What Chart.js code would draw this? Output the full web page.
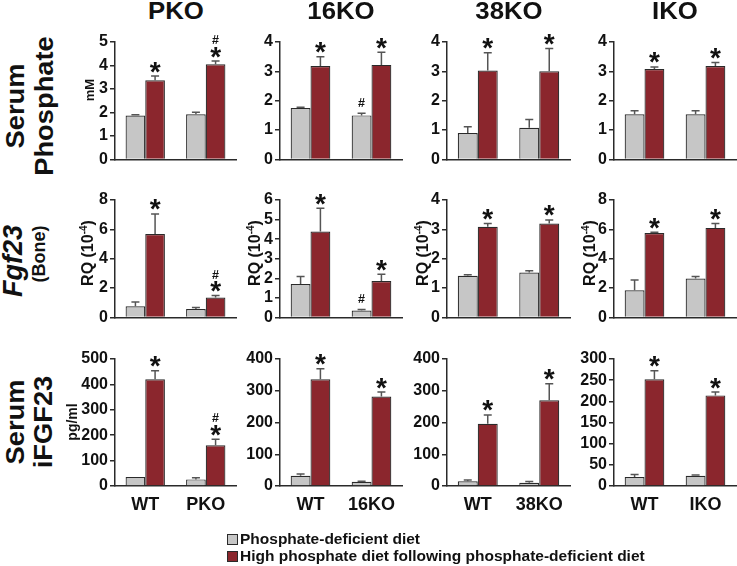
<!DOCTYPE html>
<html>
<head>
<meta charset="utf-8">
<script src="https://cdn.jsdelivr.net/npm/chart.js@4"></script>
<style>
  body { margin: 0; background: #fff; }
  #fig { position: relative; width: 737px; height: 566px; overflow: hidden;
         font-family: "Liberation Sans", Arial, sans-serif; font-weight: bold; color: #111; }
  .lbl { position: absolute; white-space: nowrap; text-align: center; line-height: 1.1; }
  .legend-row { position: absolute; left: 227px; font-size: 15.5px; display: flex; align-items: center; }
  .legend-row span.box { width: 9px; height: 9px; border: 1px solid #2a2a2a; margin-right: 2px; }
</style>
</head>
<body>
<div id="fig"></div>
<script>
const diets = ["Phosphate-deficient diet", "High phosphate diet following phosphate-deficient diet"];
const models = ["PKO", "16KO", "38KO", "IKO"];

// each entry: [WT, knockout] for PKO, 16KO, 38KO, IKO
// serum phosphate (mM)
const phosLow = [[1.87, 1.92], [1.75, 1.50], [0.90, 1.08], [1.54, 1.54]];
const phosLowSem = [[0.03, 0.09], [0.03, 0.07], [0.21, 0.28], [0.12, 0.12]];
const phosHigh = [[3.37, 4.05], [3.18, 3.22], [3.03, 3.00], [3.08, 3.18]];
const phosHighSem = [[0.18, 0.14], [0.32, 0.43], [0.60, 0.78], [0.07, 0.12]];
const phosLowMarks = [["", ""], ["", "#"], ["", ""], ["", ""]];
const phosHighMarks = [["*", "*#"], ["*", "*"], ["*", "*"], ["*", "*"]];
const phosMax = [5, 4, 4, 4];
const phosStep = [1, 1, 1, 1];

// bone Fgf23 mRNA, RQ (10^-4)
const fgfLow = [[0.76, 0.57], [1.71, 0.35], [1.42, 1.53], [1.85, 2.65]];
const fgfLowSem = [[0.29, 0.10], [0.38, 0.06], [0.03, 0.06], [0.70, 0.13]];
const fgfHigh = [[5.68, 1.35], [4.39, 1.86], [3.09, 3.20], [5.75, 6.10]];
const fgfHighSem = [[1.37, 0.14], [1.19, 0.35], [0.11, 0.12], [0.06, 0.30]];
const fgfLowMarks = [["", ""], ["", "#"], ["", ""], ["", ""]];
const fgfHighMarks = [["*", "*#"], ["*", "*"], ["*", "*"], ["*", "*"]];
const fgfMax = [8, 6, 4, 8];
const fgfStep = [2, 1, 1, 2];

// serum iFGF23 (pg/ml)
const ifgfLow = [[35, 26], [32, 13], [15, 10], [21, 24]];
const ifgfLowSem = [[0, 6], [6, 2], [4, 4], [6, 2]];
const ifgfHigh = [[420, 160], [336, 282], [196, 270], [252, 214]];
const ifgfHighSem = [[34, 24], [33, 14], [28, 52], [20, 8]];
const ifgfLowMarks = [["", ""], ["", ""], ["", ""], ["", ""]];
const ifgfHighMarks = [["*", "*#"], ["*", "*"], ["*", "*"], ["*", "*"]];
const ifgfMax = [500, 400, 400, 300];
const ifgfStep = [100, 100, 100, 50];

const rows = [
  { low: phosLow, lowSem: phosLowSem, high: phosHigh, highSem: phosHighSem,
    lowMarks: phosLowMarks, highMarks: phosHighMarks, max: phosMax, step: phosStep },
  { low: fgfLow, lowSem: fgfLowSem, high: fgfHigh, highSem: fgfHighSem,
    lowMarks: fgfLowMarks, highMarks: fgfHighMarks, max: fgfMax, step: fgfStep },
  { low: ifgfLow, lowSem: ifgfLowSem, high: ifgfHigh, highSem: ifgfHighSem,
    lowMarks: ifgfLowMarks, highMarks: ifgfHighMarks, max: ifgfMax, step: ifgfStep }
];

const GRAY = "#c6c6c6";
const RED = "#8b262d";
const INK = "#2a2a2a";
const FONT = '"Liberation Sans", Arial, sans-serif';

// panel geometry (plot area edges in page px)
const colAxis = [115, 280, 447, 614];
const colRight = [236, 402, 570, 736];
const rowTop = [42, 200, 359];
const rowBottom = [169, 327, 486];
const AXIS_W = 50, PAD_T = 12;

const fig = document.getElementById("fig");

// error bars + significance marks
const errorBars = {
  id: "errorBars",
  afterDatasetsDraw(chart) {
    const ctx = chart.ctx;
    const y = chart.scales.y;
    chart.data.datasets.forEach((ds, i) => {
      chart.getDatasetMeta(i).data.forEach((bar, j) => {
        const top = y.getPixelForValue(ds.data[j] + ds.sem[j]);
        ctx.save();
        if (ds.sem[j] > 0) {
          ctx.strokeStyle = "#555";
          ctx.lineWidth = 1.5;
          ctx.beginPath();
          ctx.moveTo(bar.x, bar.y);
          ctx.lineTo(bar.x, top);
          ctx.moveTo(bar.x - 4, top);
          ctx.lineTo(bar.x + 4, top);
          ctx.stroke();
        }
        const mark = ds.marks[j];
        ctx.fillStyle = "#111";
        ctx.textAlign = "center";
        ctx.textBaseline = "alphabetic";
        let cy = top;
        if (mark.includes("*")) {
          ctx.font = "bold 28px " + FONT;
          const m = ctx.measureText("*");
          cy = top - 9;
          ctx.fillText("*", bar.x, cy + (m.actualBoundingBoxAscent - m.actualBoundingBoxDescent) / 2);
          cy -= 12.5;
        } else {
          cy = top - 11;
        }
        if (mark.includes("#")) {
          ctx.font = "bold 12.5px " + FONT;
          const m = ctx.measureText("#");
          ctx.fillText("#", bar.x, cy + (m.actualBoundingBoxAscent - m.actualBoundingBoxDescent) / 2);
        }
        ctx.restore();
      });
    });
  }
};

function makePanel(r, c) {
  const row = rows[r];
  const xH = r === 2 ? 30 : 0;
  const w = AXIS_W + colRight[c] - colAxis[c] + 2;
  const h = PAD_T + rowBottom[r] - rowTop[r] + xH + 2;
  const cv = document.createElement("canvas");
  cv.width = w;
  cv.height = h;
  cv.style.cssText = `position:absolute;left:${colAxis[c] - AXIS_W}px;top:${rowTop[r] - PAD_T}px;width:${w}px;height:${h}px`;
  fig.appendChild(cv);

  new Chart(cv, {
    type: "bar",
    data: {
      labels: ["WT", models[c]],
      datasets: [
        { label: diets[0], data: row.low[c], sem: row.lowSem[c], marks: row.lowMarks[c],
          backgroundColor: GRAY, borderColor: INK, borderWidth: 1.2 },
        { label: diets[1], data: row.high[c], sem: row.highSem[c], marks: row.highMarks[c],
          backgroundColor: RED, borderColor: INK, borderWidth: 1.2 }
      ]
    },
    options: {
      responsive: false,
      animation: false,
      layout: { padding: { top: PAD_T, right: 2, bottom: 2, left: 0 } },
      datasets: { bar: { categoryPercentage: 0.65, barPercentage: 1.0 } },
      scales: {
        x: {
          grid: { display: false, drawTicks: false },
          border: { display: true, color: INK, width: 1.5 },
          ticks: { display: r === 2, color: "#111", padding: 8,
                   font: { family: FONT, size: 18, weight: "bold" } },
          afterFit: s => { s.height = xH; }
        },
        y: {
          min: 0,
          max: row.max[c],
          grid: { drawOnChartArea: false, drawTicks: true, tickLength: 5, color: INK, lineWidth: 1.5 },
          border: { display: true, color: INK, width: 1.5 },
          ticks: { stepSize: row.step[c], autoSkip: false, color: "#111", padding: 2,
                   font: { family: FONT, size: 16, weight: "bold" } },
          afterFit: s => { s.width = AXIS_W; }
        }
      },
      plugins: { legend: { display: false }, tooltip: { enabled: false } }
    },
    plugins: [errorBars]
  });
}

for (let r = 0; r < 3; r++) {
  for (let c = 0; c < 4; c++) makePanel(r, c);
}

function addLabel(html, cx, cy, size, transform, extra) {
  const d = document.createElement("div");
  d.className = "lbl";
  d.innerHTML = html;
  d.style.left = cx + "px";
  d.style.top = cy + "px";
  d.style.fontSize = size + "px";
  d.style.transform = "translate(-50%,-50%) " + (transform || "");
  if (extra) Object.assign(d.style, extra);
  fig.appendChild(d);
  return d;
}

// column titles
models.forEach((m, c) => addLabel(m, (colAxis[c] + colRight[c]) / 2, 12, 23, "scaleX(1.12)"));

// row titles
addLabel("Serum<br>Phosphate", 30, 106, 26, "rotate(-90deg) scaleX(1.05)", { lineHeight: "29px" });
addLabel("<i>Fgf23</i>", 14, 261, 27, "rotate(-90deg)");
addLabel("(Bone)", 40, 254, 18, "rotate(-90deg)");
addLabel("Serum<br>iFGF23", 29, 422, 26, "rotate(-90deg) scaleX(1.05)", { lineHeight: "28px" });

// y-axis units
addLabel("mM", 90, 90, 13, "rotate(-90deg)");
const rqX = [87, 254, 422, 589];
rqX.forEach(x => addLabel("RQ (10<sup style='font-size:10px'>-4</sup>)", x, 253, 16, "rotate(-90deg)"));
addLabel("pg/ml", 73, 422, 14, "rotate(-90deg)");

// legend
[GRAY, RED].forEach((col, i) => {
  const d = document.createElement("div");
  d.className = "legend-row";
  d.style.top = (530 + i * 17) + "px";
  d.innerHTML = `<span class="box" style="background:${col}"></span><span>${diets[i]}</span>`;
  fig.appendChild(d);
});
</script>
</body>
</html>
